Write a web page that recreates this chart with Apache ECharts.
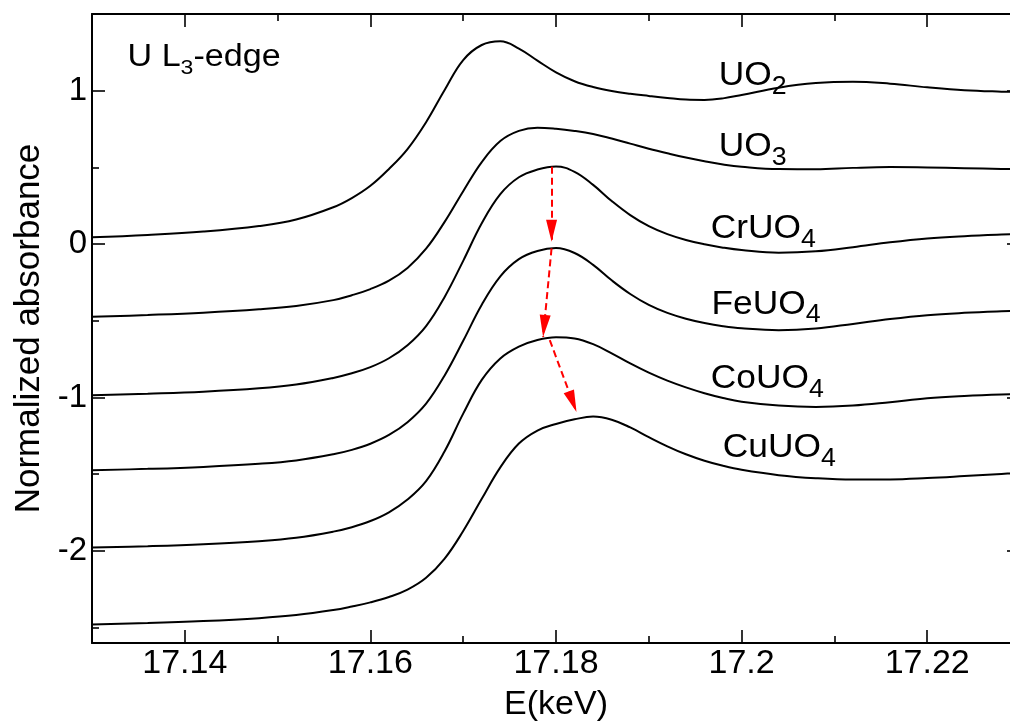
<!DOCTYPE html>
<html><head><meta charset="utf-8">
<script src="https://cdn.jsdelivr.net/npm/echarts@6/dist/echarts.min.js"></script>
<style>html,body{margin:0;padding:0;background:#fff}#c{width:1010px;height:727px}</style>
</head><body><div id="c"></div>
<script>
// ---- data ----
const energy = [17.130, 17.136, 17.142, 17.148, 17.152, 17.156, 17.158, 17.160, 17.162, 17.164, 17.166, 17.168, 17.170, 17.172, 17.174, 17.176, 17.178, 17.180, 17.182, 17.184, 17.186, 17.188, 17.190, 17.192, 17.194, 17.196, 17.198, 17.200, 17.204, 17.208, 17.212, 17.216, 17.220, 17.224, 17.228, 17.230];
const UO2   = [0.045, 0.060, 0.082, 0.118, 0.160, 0.240, 0.300, 0.380, 0.490, 0.620, 0.795, 1.005, 1.200, 1.298, 1.322, 1.275, 1.196, 1.120, 1.062, 1.024, 0.998, 0.980, 0.966, 0.953, 0.942, 0.940, 0.950, 0.972, 1.020, 1.050, 1.059, 1.046, 1.022, 1.003, 0.994, 0.992];
const UO3   = [-0.474, -0.462, -0.447, -0.425, -0.403, -0.365, -0.333, -0.293, -0.238, -0.155, -0.030, 0.145, 0.345, 0.535, 0.672, 0.738, 0.759, 0.752, 0.738, 0.718, 0.688, 0.655, 0.622, 0.592, 0.564, 0.540, 0.519, 0.504, 0.489, 0.488, 0.497, 0.502, 0.500, 0.495, 0.490, 0.489];
const CrUO4 = [-0.985, -0.975, -0.962, -0.940, -0.915, -0.872, -0.842, -0.802, -0.744, -0.659, -0.534, -0.344, -0.109, 0.136, 0.326, 0.436, 0.486, 0.506, 0.471, 0.386, 0.281, 0.189, 0.117, 0.065, 0.027, -0.001, -0.023, -0.039, -0.056, -0.047, -0.020, 0.012, 0.037, 0.052, 0.062, 0.065];
const FeUO4 = [-1.474, -1.465, -1.452, -1.432, -1.410, -1.370, -1.341, -1.301, -1.244, -1.161, -1.040, -0.856, -0.630, -0.395, -0.210, -0.098, -0.045, -0.026, -0.058, -0.135, -0.236, -0.325, -0.396, -0.448, -0.486, -0.514, -0.535, -0.549, -0.561, -0.550, -0.520, -0.488, -0.463, -0.448, -0.438, -0.435];
const CoUO4 = [-1.978, -1.969, -1.956, -1.936, -1.914, -1.874, -1.845, -1.805, -1.748, -1.665, -1.545, -1.350, -1.105, -0.885, -0.745, -0.668, -0.625, -0.607, -0.615, -0.652, -0.712, -0.778, -0.838, -0.890, -0.934, -0.972, -1.003, -1.027, -1.052, -1.061, -1.052, -1.030, -1.005, -0.990, -0.980, -0.978];
const CuUO4 = [-2.479, -2.470, -2.457, -2.438, -2.418, -2.385, -2.362, -2.335, -2.300, -2.252, -2.175, -2.050, -1.870, -1.660, -1.455, -1.300, -1.215, -1.172, -1.142, -1.124, -1.145, -1.195, -1.258, -1.318, -1.370, -1.412, -1.445, -1.471, -1.506, -1.526, -1.535, -1.534, -1.525, -1.512, -1.498, -1.492];

const seriesNames = ['UO2', 'UO3', 'CrUO4', 'FeUO4', 'CoUO4', 'CuUO4'];
const seriesValues = [UO2, UO3, CrUO4, FeUO4, CoUO4, CuUO4];

const xMajorTicks = [17.14, 17.16, 17.18, 17.2, 17.22];
const xMinorTicks = [17.13, 17.15, 17.17, 17.19, 17.21, 17.23];
const yMajorTicks = [-2, -1, 0, 1];
const yMinorTicks = [-2.5, -1.5, -0.5, 0.5];

// peak-shift arrows: [E, y] start and end
const arrowStarts = [[17.17952, 0.504], [17.17952, -0.028], [17.17933, -0.626]];
const arrowEnds   = [[17.17952, 0.015], [17.17861, -0.605], [17.18221, -1.094]];

// curve labels: main text, subscript, anchor (left, baseline) in data units
const labelMain = ['UO', 'UO', 'CrUO', 'FeUO', 'CoUO', 'CuUO'];
const labelSub  = ['2', '3', '4', '4', '4', '4'];
const labelAnchor = [[17.19753, 1.020], [17.19753, 0.559], [17.19668, 0.026], [17.19676, -0.468], [17.19668, -0.952], [17.19798, -1.404]];
const edgeAnchor = [17.13383, 1.146];

// ---- chart ----
const F = '"Liberation Sans", Arial, Helvetica, sans-serif';
const xMin = 17.13, xMax = 17.23, yMin = -2.6, yMax = 1.5;
const chart = echarts.init(document.getElementById('c'), null, {renderer: 'canvas'});

function xAxisDef(pos, ticks, len, main, line) {
  return {
    type: 'value', position: pos, min: xMin, max: xMax,
    name: main ? 'E(keV)' : '', nameLocation: 'middle', nameGap: 45,
    nameTextStyle: {fontSize: 34, fontFamily: F, color: '#000'},
    axisLine: {show: line, onZero: false, lineStyle: {color: '#000', width: 2}},
    axisTick: {show: true, inside: true, length: len, customValues: ticks, lineStyle: {color: '#000', width: 1.6}},
    axisLabel: {show: main, customValues: ticks, margin: 4, fontSize: 34, fontFamily: F, color: '#000',
      formatter: v => String(parseFloat(v.toFixed(3)))},
    splitLine: {show: false}
  };
}
function yAxisDef(pos, ticks, len, main, line) {
  return {
    type: 'value', position: pos, min: yMin, max: yMax,
    name: main ? 'Normalized absorbance' : '', nameLocation: 'middle', nameGap: 44,
    nameTextStyle: {fontSize: 35, fontFamily: F, color: '#000'},
    axisLine: {show: line, onZero: false, lineStyle: {color: '#000', width: 2}},
    axisTick: {show: true, inside: true, length: len, customValues: ticks, lineStyle: {color: '#000', width: 1.6}},
    axisLabel: {show: main, customValues: ticks, margin: 5, fontSize: 33, fontFamily: F, color: '#000',
      formatter: v => String(v)},
    splitLine: {show: false}
  };
}

const series = seriesNames.map((name, i) => ({
  name: name, type: 'line', xAxisIndex: 0, yAxisIndex: 0,
  data: energy.map((e, j) => [e, seriesValues[i][j]]),
  showSymbol: false, smooth: 0.4, animation: false,
  lineStyle: {color: '#000', width: 2}
}));
series.push({
  name: 'shift', type: 'line', xAxisIndex: 0, yAxisIndex: 0, data: [], animation: false,
  markLine: {
    silent: true, animation: false,
    symbol: ['none', 'triangle'], symbolSize: [11, 22], symbolOffset: [0, [0, 11]],
    lineStyle: {color: '#ff0000', width: 2, type: [7, 4]},
    label: {show: false},
    data: arrowStarts.map((s, i) => [{coord: s}, {coord: arrowEnds[i]}])
  }
});

chart.setOption({
  animation: false,
  backgroundColor: '#fff',
  grid: {left: 92, top: 14, width: 928, height: 629, containLabel: false, outerBoundsMode: 'none'},
  xAxis: [
    xAxisDef('bottom', xMajorTicks, 13, true, true),
    xAxisDef('bottom', xMinorTicks, 7, false, false),
    xAxisDef('top', xMajorTicks, 13, false, true),
    xAxisDef('top', xMinorTicks, 7, false, false)
  ],
  yAxis: [
    yAxisDef('left', yMajorTicks, 13, true, true),
    yAxisDef('left', yMinorTicks, 7, false, false),
    yAxisDef('right', yMajorTicks, 13, false, true),
    yAxisDef('right', yMinorTicks, 7, false, false)
  ],
  series: series
});

function richText(parts, big, small, pad) {
  return {
    text: parts.map(p => '{' + p[0] + '|' + p[1] + '}').join(''),
    align: 'left', verticalAlign: 'top',
    rich: {
      m: {fontSize: big, lineHeight: big, fontFamily: F, fill: '#000', verticalAlign: 'top'},
      s: {fontSize: small, lineHeight: small, fontFamily: F, fill: '#000', verticalAlign: 'top', padding: [pad, 0, 0, 0]}
    }
  };
}
const graphics = [];
labelMain.forEach((m, i) => {
  const p = chart.convertToPixel({xAxisIndex: 0, yAxisIndex: 0}, labelAnchor[i]);
  graphics.push({type: 'text', x: p[0], y: p[1] - 28, scaleX: 1.07, silent: true,
    style: richText([['m', m], ['s', labelSub[i]]], 33, 25, 15)});
});
const ep = chart.convertToPixel({xAxisIndex: 0, yAxisIndex: 0}, edgeAnchor);
graphics.push({type: 'text', x: ep[0], y: ep[1] - 26, scaleX: 1.1, silent: true,
  style: richText([['m', 'U L'], ['s', '3'], ['m', '-edge']], 31, 21, 15)});
chart.setOption({graphic: graphics});
</script>
</body></html>
